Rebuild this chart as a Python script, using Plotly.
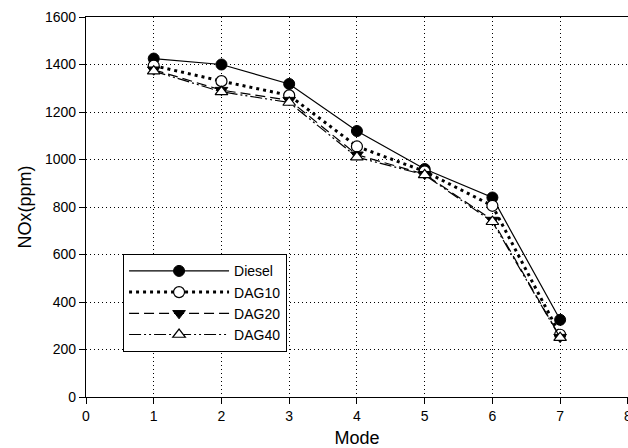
import plotly.graph_objects as go

modes = [1, 2, 3, 4, 5, 6, 7]
diesel = [1425, 1400, 1318, 1120, 960, 840, 325]
dag10 = [1395, 1330, 1270, 1055, 950, 805, 262]
dag20 = [1378, 1292, 1250, 1020, 938, 745, 252]
dag40 = [1372, 1285, 1240, 1010, 935, 738, 250]

x_ticks = [0, 1, 2, 3, 4, 5, 6, 7, 8]
y_ticks = [0, 200, 400, 600, 800, 1000, 1200, 1400, 1600]

font_family = "Liberation Sans, Arial, sans-serif"

fig = go.Figure()
fig.add_trace(go.Scatter(x=modes, y=diesel, name="Diesel", mode="lines+markers",
                         line=dict(color="black", width=1.2, dash="solid"),
                         marker=dict(symbol="circle", size=11, color="black",
                                     line=dict(color="black", width=1))))
fig.add_trace(go.Scatter(x=modes, y=dag10, name="DAG10", mode="lines+markers",
                         line=dict(color="black", width=3, dash="3px,4px"),
                         marker=dict(symbol="circle", size=11, color="white",
                                     line=dict(color="black", width=1.2))))
fig.add_trace(go.Scatter(x=modes, y=dag20, name="DAG20", mode="lines+markers",
                         line=dict(color="black", width=1.2, dash="10px,5px"),
                         marker=dict(symbol="triangle-down", size=11, color="black",
                                     line=dict(color="black", width=1))))
fig.add_trace(go.Scatter(x=modes, y=dag40, name="DAG40", mode="lines+markers",
                         line=dict(color="black", width=1.2, dash="12px,3px,2px,3px,2px,3px"),
                         marker=dict(symbol="triangle-up", size=11, color="white",
                                     line=dict(color="black", width=1.2))))

axis_common = dict(
    showline=True, linecolor="black", linewidth=1.2, mirror=True,
    ticks="outside", ticklen=6, tickcolor="black", tickwidth=1,
    showgrid=True, gridcolor="black", gridwidth=1, griddash="1px,3px",
    zeroline=False, tickfont=dict(family=font_family, size=14, color="black"),
    automargin=False, ticklabeloverflow="allow",
)

fig.update_xaxes(range=[0, 8.002], tickvals=x_ticks, ticktext=[str(v) for v in x_ticks],
                 title=dict(text="Mode", font=dict(family=font_family, size=18, color="black"),
                            standoff=8),
                 **axis_common)
fig.update_yaxes(range=[0, 1600], tickvals=y_ticks, ticktext=[str(v) for v in y_ticks],
                 title=dict(text="NOx(ppm)", font=dict(family=font_family, size=18, color="black"),
                            standoff=8),
                 **axis_common)

fig.update_layout(
    width=628, height=448,
    margin=dict(l=86, r=0, t=17, b=51),
    paper_bgcolor="white", plot_bgcolor="white",
    font=dict(family=font_family, color="black"),
    legend=dict(x=0.068, y=0.376, xanchor="left", yanchor="top",
                bgcolor="white", bordercolor="black", borderwidth=1.2,
                font=dict(family=font_family, size=14, color="black"),
                itemwidth=100, tracegroupgap=0),
    showlegend=True,
)

fig.write_html("out.html")
